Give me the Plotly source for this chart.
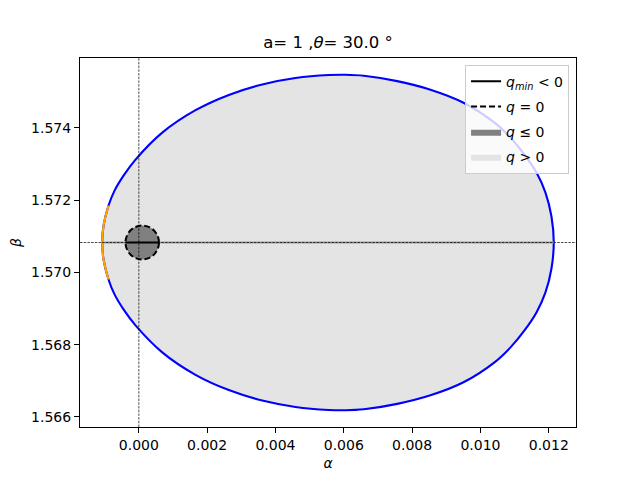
import plotly.graph_objects as go

# ---- data ----
boundary_alpha = [-0.001071, -0.001033, -0.000887, -0.000711, -0.000448, -0.000097, 0.000685,
                  0.001659, 0.002634, 0.003612, 0.004586, 0.005561, 0.006050, 0.006585,
                  0.007563, 0.008537, 0.009503, 0.010411, 0.010879, 0.011289, 0.011640,
                  0.011903, 0.012079, 0.012146,
                  0.012079, 0.011903, 0.011640, 0.011289, 0.010879, 0.010411, 0.009503,
                  0.008537, 0.007563, 0.006585, 0.006050, 0.005561, 0.004586, 0.003612,
                  0.002634, 0.001659, 0.000685, -0.000097, -0.000448, -0.000711,
                  -0.000887, -0.001033, -0.001071]
boundary_beta = [1.570829, 1.571299, 1.571852, 1.572266, 1.572681, 1.573124, 1.573870,
                 1.574492, 1.574915, 1.575205, 1.575382, 1.575465, 1.575473, 1.575446,
                 1.575296, 1.575059, 1.574699, 1.574146, 1.573732, 1.573262, 1.572764,
                 1.572211, 1.571548, 1.570829,
                 1.570110, 1.569447, 1.568894, 1.568396, 1.567926, 1.567512, 1.566959,
                 1.566599, 1.566362, 1.566212, 1.566185, 1.566193, 1.566276, 1.566453,
                 1.566743, 1.567166, 1.567788, 1.568534, 1.568977, 1.569392,
                 1.569806, 1.570359, 1.570829]

orange_alpha = [-0.000887, -0.001033, -0.001071, -0.001033, -0.000887]
orange_beta = [1.571852, 1.571299, 1.570829, 1.570359, 1.569806]

beta_center = 1.570829
q_zero_center_alpha = 0.0001
q_zero_radius_alpha = 0.00049
q_zero_radius_beta = 0.00047

q_min_alpha = [-0.00039, 0.00059]
q_min_beta = [beta_center, beta_center]

center_line_alpha = [-0.001071, 0.012146]
center_line_beta = [beta_center, beta_center]

x_ticks = [0.000, 0.002, 0.004, 0.006, 0.008, 0.010, 0.012]
y_ticks = [1.566, 1.568, 1.570, 1.572, 1.574]

FONT = "DejaVu Sans"

fig = go.Figure()

# q > 0 region
fig.add_trace(go.Scatter(x=boundary_alpha, y=boundary_beta, mode="lines", fill="toself",
                         fillcolor="#e4e4e4", line=dict(width=0, color="#e4e4e4", shape="spline"),
                         name="<i>q</i> > 0", legendrank=4, legendgroup="d", hoverinfo="skip"))
# boundary
fig.add_trace(go.Scatter(x=boundary_alpha, y=boundary_beta, mode="lines",
                         line=dict(color="blue", width=2.1, shape="spline"), showlegend=False))
fig.add_trace(go.Scatter(x=orange_alpha, y=orange_beta, mode="lines",
                         line=dict(color="orange", width=2.1, shape="spline"), showlegend=False))
# degenerate gray line along the center
fig.add_trace(go.Scatter(x=center_line_alpha, y=center_line_beta, mode="lines",
                         line=dict(color="#9a9a9a", width=2), showlegend=False))

# legend-only entries
fig.add_trace(go.Scatter(x=[None], y=[None], mode="lines",
                         line=dict(color="black", width=2, dash="6px,3px"),
                         name="<i>q</i> = 0", legendrank=2, legendgroup="b"))
fig.add_trace(go.Scatter(x=[None], y=[None], mode="lines", fill="toself", fillcolor="gray",
                         line=dict(width=0, color="gray"), name="<i>q</i> ≤ 0",
                         legendrank=3, legendgroup="c"))

# q_min < 0 segment
fig.add_trace(go.Scatter(x=q_min_alpha, y=q_min_beta, mode="lines",
                         line=dict(color="black", width=2.1),
                         name="<i>q<sub>min</sub></i> < 0", legendrank=1, legendgroup="a"))

# q <= 0 disc with q = 0 dashed border
fig.add_shape(type="circle", xref="x", yref="y",
              x0=q_zero_center_alpha - q_zero_radius_alpha, x1=q_zero_center_alpha + q_zero_radius_alpha,
              y0=beta_center - q_zero_radius_beta, y1=beta_center + q_zero_radius_beta,
              fillcolor="gray", line=dict(color="black", width=2, dash="6px,3px"), layer="above")
# q_min line above the disc
fig.add_shape(type="line", xref="x", yref="y", x0=q_min_alpha[0], x1=q_min_alpha[1],
              y0=q_min_beta[0], y1=q_min_beta[1], line=dict(color="black", width=2.1), layer="above")

# reference lines
fig.add_shape(type="line", xref="x domain", yref="y", x0=0, x1=1, y0=beta_center, y1=beta_center,
              line=dict(color="black", width=0.7, dash="2.5px,1.2px"), layer="above")
fig.add_shape(type="line", xref="x", yref="y domain", x0=0, x1=0, y0=0, y1=1,
              line=dict(color="black", width=0.7, dash="2.5px,1.2px"), layer="above")

fig.update_layout(
    width=632, height=472,
    margin=dict(l=72, r=64, t=50, b=53, autoexpand=False),
    paper_bgcolor="white", plot_bgcolor="white",
    font=dict(family=FONT, size=14, color="black"),
    title=dict(text="a= 1 ,<i>θ</i>= 30.0 °", x=0.5, xref="paper", xanchor="center",
               y=1 - 34/472, yref="container", yanchor="middle", font=dict(size=16.5)),
    showlegend=True,
    legend=dict(x=0.986, y=0.982, xanchor="right", yanchor="top",
                bgcolor="rgba(255,255,255,0.8)", bordercolor="#cccccc", borderwidth=1,
                font=dict(size=14), traceorder="grouped", tracegroupgap=4, itemwidth=30),
    xaxis=dict(range=[-0.001722, 0.012797], tickvals=x_ticks, tickformat=".3f",
               showgrid=False, zeroline=False, showline=True, mirror=True, linecolor="black",
               linewidth=1, ticks="outside", ticklen=5, tickcolor="black", automargin=False,
               title=dict(text="<i>α</i>", standoff=6, font=dict(size=14))),
    yaxis=dict(range=[1.565721, 1.575937], tickvals=y_ticks, tickformat=".3f",
               showgrid=False, zeroline=False, showline=True, mirror=True, linecolor="black",
               linewidth=1, ticks="outside", ticklen=5, tickcolor="black", automargin=False,
               title=dict(text="<i>β</i>", standoff=13, font=dict(size=14))),
)

fig.write_html("out.html")
